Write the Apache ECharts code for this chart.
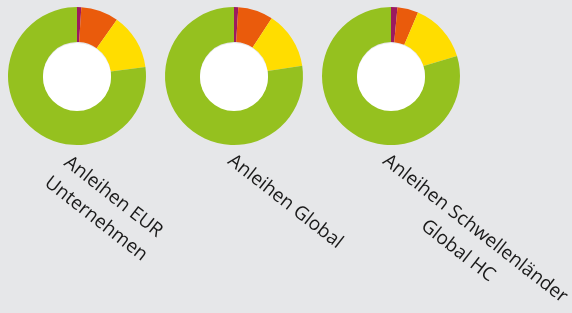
<!DOCTYPE html>
<html>
<head>
<meta charset="utf-8">
<script src="https://cdn.jsdelivr.net/npm/echarts@6/dist/echarts.min.js"></script>
<style>
  html, body { margin: 0; padding: 0; background: #e6e7e9; }
  #chart-container { width: 572px; height: 313px; }
</style>
</head>
<body>
<div id="chart-container"></div>
<script>
var dom = document.getElementById("chart-container");
var myChart = echarts.init(dom, null, { renderer: "canvas" });

// slice categories, in drawing order (clockwise from 12 o'clock)
var categories = ["Segment 1", "Segment 2", "Segment 3", "Segment 4"];
var sliceColors = ["#9c1a5f", "#ea5b0c", "#ffdd00", "#95c11f"];

// shares in percent, one list per fund
var eurUnternehmen = [1.0, 8.8, 13.1, 77.1];
var global = [1.0, 8.2, 13.4, 77.4];
var schwellenlaender = [1.5, 4.9, 13.9, 79.7];

// labels under each donut
var labels = [
  ["Anleihen EUR", "Unternehmen"],
  ["Anleihen Global"],
  ["Anleihen Schwellenländer", "Global HC"]
];

var funds = [eurUnternehmen, global, schwellenlaender];

var centersX = [77, 234, 391];
var centerY = 76;
var labelFont = "19px 'Open Sans'";
var lineHeight = 28;
var angle = 38 * Math.PI / 180;
var labelOffsets = [[-7, 75], [2, 75], [0, 75]];

var ctx = document.createElement("canvas").getContext("2d");
ctx.font = labelFont;

var series = [];
funds.forEach(function (values, i) {
  series.push({
    type: "pie",
    center: [centersX[i], centerY],
    radius: [34, 69],
    startAngle: 90,
    silent: true,
    label: { show: false },
    labelLine: { show: false },
    emphasis: { disabled: true },
    data: values.map(function (v, k) {
      return { name: categories[k], value: v, itemStyle: { color: sliceColors[k] } };
    })
  });
  // white hole in the middle
  series.push({
    type: "pie",
    center: [centersX[i], centerY + 1],
    radius: [0, 34],
    silent: true,
    label: { show: false },
    labelLine: { show: false },
    emphasis: { disabled: true },
    data: [{ value: 1, itemStyle: { color: "#ffffff" } }]
  });
});

var graphics = labels.map(function (lines, i) {
  var widths = lines.map(function (t) { return ctx.measureText(t).width; });
  var w = Math.max.apply(null, widths);
  return {
    type: "group",
    x: centersX[i] + labelOffsets[i][0],
    y: centerY + labelOffsets[i][1],
    rotation: -angle,
    children: lines.map(function (t, j) {
      return {
        type: "text",
        x: w / 2,
        y: j * lineHeight,
        silent: true,
        style: {
          text: t,
          font: labelFont,
          fill: "#1a1a1a",
          textAlign: "center",
          textVerticalAlign: "top"
        }
      };
    })
  };
});

var option = {
  backgroundColor: "#e6e7e9",
  animation: false,
  series: series,
  graphic: graphics
};

myChart.setOption(option);
window.addEventListener("resize", myChart.resize);
</script>
</body>
</html>
